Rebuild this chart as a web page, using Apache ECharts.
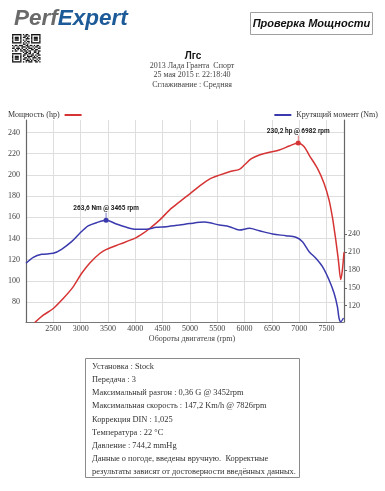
<!DOCTYPE html>
<html>
<head>
<meta charset="utf-8">
<script src="https://cdn.jsdelivr.net/npm/echarts@6/dist/echarts.min.js"></script>
<style>html,body{margin:0;padding:0;background:#fff}#c{width:385px;height:491px}</style>
</head>
<body>
<div id="c"></div>
<script>
// ---- data ----
const powerRpm = [2160, 2316, 2500, 2681, 2863, 3016, 3168, 3350, 3472, 3715, 3989, 4141, 4263, 4445, 4630, 4810, 4993, 5175, 5358, 5540, 5723, 5905, 5996, 6118, 6270, 6453, 6635, 6818, 6982, 7091, 7182, 7334, 7456, 7547, 7608, 7639, 7670, 7717, 7761, 7790, 7820];
const powerHp  = [60.5, 67.5, 73.8, 83.3, 94.3, 106.9, 116.9, 125.8, 129.6, 134.6, 140.0, 144.7, 149.4, 157.3, 167.0, 174.5, 181.9, 189.4, 196.0, 199.8, 203.0, 205.2, 209.3, 215.0, 218.7, 221.3, 223.5, 227.2, 230.2, 226.6, 218.7, 206.1, 191.9, 176.2, 160.0, 149.4, 138.4, 119.5, 101.2, 110.0, 127.0];
const torqueRpm = [2000, 2133, 2286, 2498, 2651, 2834, 2985, 3137, 3290, 3465, 3655, 3838, 4020, 4203, 4385, 4567, 4810, 4993, 5266, 5540, 5723, 5905, 6088, 6270, 6513, 6757, 6940, 7060, 7182, 7305, 7426, 7547, 7639, 7699, 7730, 7761, 7810];
const torqueNm  = [191.3, 201.3, 206.4, 208.0, 214.8, 227.6, 241.7, 254.0, 259.5, 263.6, 257.3, 251.8, 248.4, 248.4, 251.8, 252.8, 255.6, 258.0, 260.5, 255.6, 252.8, 247.2, 250.0, 246.0, 240.5, 237.6, 235.0, 227.6, 210.8, 199.7, 185.6, 163.2, 140.8, 118.3, 98.8, 93.0, 99.3];
const powerTicks = [80, 100, 120, 140, 160, 180, 200, 220, 240];
const torqueTicks = [120, 150, 180, 210, 240];
const rpmTicks = [2500, 3000, 3500, 4000, 4500, 5000, 5500, 6000, 6500, 7000, 7500];
const powerPeak = {rpm: 6982, value: 230.2, label: '230,2 hp @ 6982 rpm'};
const torquePeak = {rpm: 3465, value: 263.6, label: '263,6 Nm @ 3465 rpm'};
const infoLines = [
  'Установка : Stock',
  'Передача : 3',
  'Максимальный разгон : 0,36 G @ 3452rpm',
  'Максимальная скорость : 147,2 Km/h @ 7826rpm',
  'Коррекция DIN : 1,025',
  'Температура : 22 °C',
  'Давление : 744,2 mmHg',
  'Данные о погоде, введены вручную.  Корректные',
  'результаты зависят от достоверности введённых данных.'
];
const headerLines = ['2013 Лада Гранта  Спорт', '25 мая 2015 г. 22:18:40', 'Сглаживание : Средняя'];
const qrRows = [
  '111111101011001111111',
  '100000100110101000001',
  '101110101101001011101',
  '101110100011101011101',
  '101110101010001011101',
  '100000100101101000001',
  '111111101010101111111',
  '000000001101000000000',
  '101101110011011010110',
  '010010011101100101101',
  '110111010010111010011',
  '001010101101001101100',
  '101100110110110011011',
  '000000001011010011010',
  '111111100110110100110',
  '100000101101001101011',
  '101110101001111010100',
  '101110100110100111011',
  '101110101101010100101',
  '100000100011101011010',
  '111111101010111001101'
];

const RED = '#d63434';
const BLUE = '#3a3aae';
const SERIF = 'Liberation Serif';

function qrRects(ox, oy, m) {
  const out = [];
  qrRows.forEach((row, r) => {
    let c = 0;
    while (c < row.length) {
      if (row[c] === '1') {
        let e = c;
        while (e < row.length && row[e] === '1') e++;
        out.push({type: 'rect', silent: true, shape: {x: ox + c * m, y: oy + r * m, width: (e - c) * m, height: m}, style: {fill: '#151515'}});
        c = e;
      } else c++;
    }
  });
  return out;
}

const pinPath = 'path://M2.6,0 L3.4,0 L3.4,9 L2.6,9 Z M3,6 A3,3 0 1,1 2.999,6 Z';

const graphics = [
  {type: 'text', left: 14, top: 7, style: {
    text: '{a|Perf}{b|Expert}',
    rich: {
      a: {font: 'italic bold 22.5px "Liberation Sans"', fill: '#6a6a6a', color: '#6a6a6a'},
      b: {font: 'italic bold 22.5px "Liberation Sans"', fill: '#1d5b98', color: '#1d5b98'}
    }
  }},
  {type: 'rect', shape: {x: 250.5, y: 12.5, width: 122, height: 22}, style: {fill: '#fff', stroke: '#a0a0a0', lineWidth: 1}},
  {type: 'text', x: 311.5, y: 23.5, style: {text: 'Проверка Мощности', font: 'italic bold 11px "Liberation Sans"', fill: '#111', align: 'center', verticalAlign: 'middle'}},
  {type: 'text', x: 193, y: 56, style: {text: 'Лгс', font: 'bold 10px "Liberation Sans"', fill: '#111', align: 'center', verticalAlign: 'middle'}},
  {type: 'rect', shape: {x: 85.5, y: 358.5, width: 214, height: 119}, style: {fill: '#fff', stroke: '#8a8a8a', lineWidth: 1}}
].concat(qrRects(12, 34, 1.36));
headerLines.forEach((t, i) => {
  graphics.push({type: 'text', x: 192, y: 65.5 + i * 9.7, style: {text: t, font: '8px "' + SERIF + '"', fill: '#444', align: 'center', verticalAlign: 'middle'}});
});
infoLines.forEach((t, i) => {
  graphics.push({type: 'text', x: 92, y: 366.7 + i * 13.2, style: {text: t, font: '8.4px "' + SERIF + '"', fill: '#333', align: 'left', verticalAlign: 'middle'}});
});

const chart = echarts.init(document.getElementById('c'), null, {renderer: 'canvas'});
chart.setOption({
  animation: false,
  backgroundColor: '#fff',
  textStyle: {fontFamily: SERIF},
  graphic: graphics,
  legend: [
    {data: ['Мощность (hp)'], left: 3, top: 106, align: 'right', icon: 'rect', itemWidth: 17, itemHeight: 2, itemGap: 3,
     textStyle: {fontFamily: SERIF, fontSize: 8, color: '#333'}},
    {data: ['Крутящий момент (Nm)'], right: 2, top: 106, align: 'left', icon: 'rect', itemWidth: 17, itemHeight: 2,
     textStyle: {fontFamily: SERIF, fontSize: 8, color: '#333'}}
  ],
  grid: {left: 26, right: 41, top: 120, bottom: 169, containLabel: false},
  xAxis: {
    type: 'value', min: 2000, max: 7820,
    name: 'Обороты двигателя (rpm)', nameLocation: 'middle', nameGap: 13,
    nameTextStyle: {fontFamily: SERIF, fontSize: 8, color: '#444', padding: [0, 0, 0, 14]},
    axisLine: {show: true, lineStyle: {color: '#777', width: 1.2}},
    axisTick: {show: false, customValues: rpmTicks},
    axisLabel: {customValues: rpmTicks, formatter: v => String(v), fontFamily: SERIF, fontSize: 8, color: '#444', margin: 3},
    splitLine: {show: true, lineStyle: {color: '#dedede', width: 1}}
  },
  yAxis: [
    {
      type: 'value', min: 61.1, max: 251.8, position: 'left',
      axisLine: {show: true, lineStyle: {color: '#666', width: 1.2}},
      axisTick: {show: false, customValues: powerTicks},
      axisLabel: {customValues: powerTicks, formatter: v => String(v), fontFamily: SERIF, fontSize: 8, color: '#444', margin: 6},
      splitLine: {show: true, lineStyle: {color: '#dedede', width: 1}}
    },
    {
      type: 'value', min: 92.6, max: 432.1, position: 'right',
      axisLine: {show: true, lineStyle: {color: '#666', width: 1.2}},
      axisTick: {show: true, customValues: torqueTicks, length: 3, inside: false, lineStyle: {color: '#666'}},
      axisLabel: {customValues: torqueTicks, formatter: v => String(v), fontFamily: SERIF, fontSize: 8, color: '#444', margin: 4},
      splitLine: {show: false}
    }
  ],
  series: [
    {
      name: 'Мощность (hp)', type: 'line', yAxisIndex: 0, smooth: 0.3, showSymbol: false,
      color: RED, lineStyle: {color: RED, width: 1.5},
      data: powerRpm.map((r, i) => [r, powerHp[i]]),
      markPoint: {
        symbol: pinPath, symbolSize: [5, 10], symbolOffset: [0, -2.5],
        itemStyle: {color: RED},
        label: {show: true, position: 'top', distance: 1, formatter: '{b}', fontFamily: 'Roboto', fontWeight: 'bold', fontSize: 6.5, color: '#222'},
        data: [{name: powerPeak.label, coord: [powerPeak.rpm, powerPeak.value]}]
      }
    },
    {
      name: 'Крутящий момент (Nm)', type: 'line', yAxisIndex: 1, smooth: 0.3, showSymbol: false,
      color: BLUE, lineStyle: {color: BLUE, width: 1.5},
      data: torqueRpm.map((r, i) => [r, torqueNm[i]]),
      markPoint: {
        symbol: pinPath, symbolSize: [5, 10], symbolOffset: [0, -2.5],
        itemStyle: {color: BLUE},
        label: {show: true, position: 'top', distance: 1, formatter: '{b}', fontFamily: 'Roboto', fontWeight: 'bold', fontSize: 6.5, color: '#222'},
        data: [{name: torquePeak.label, coord: [torquePeak.rpm, torquePeak.value]}]
      }
    }
  ]
});
</script>
</body>
</html>
